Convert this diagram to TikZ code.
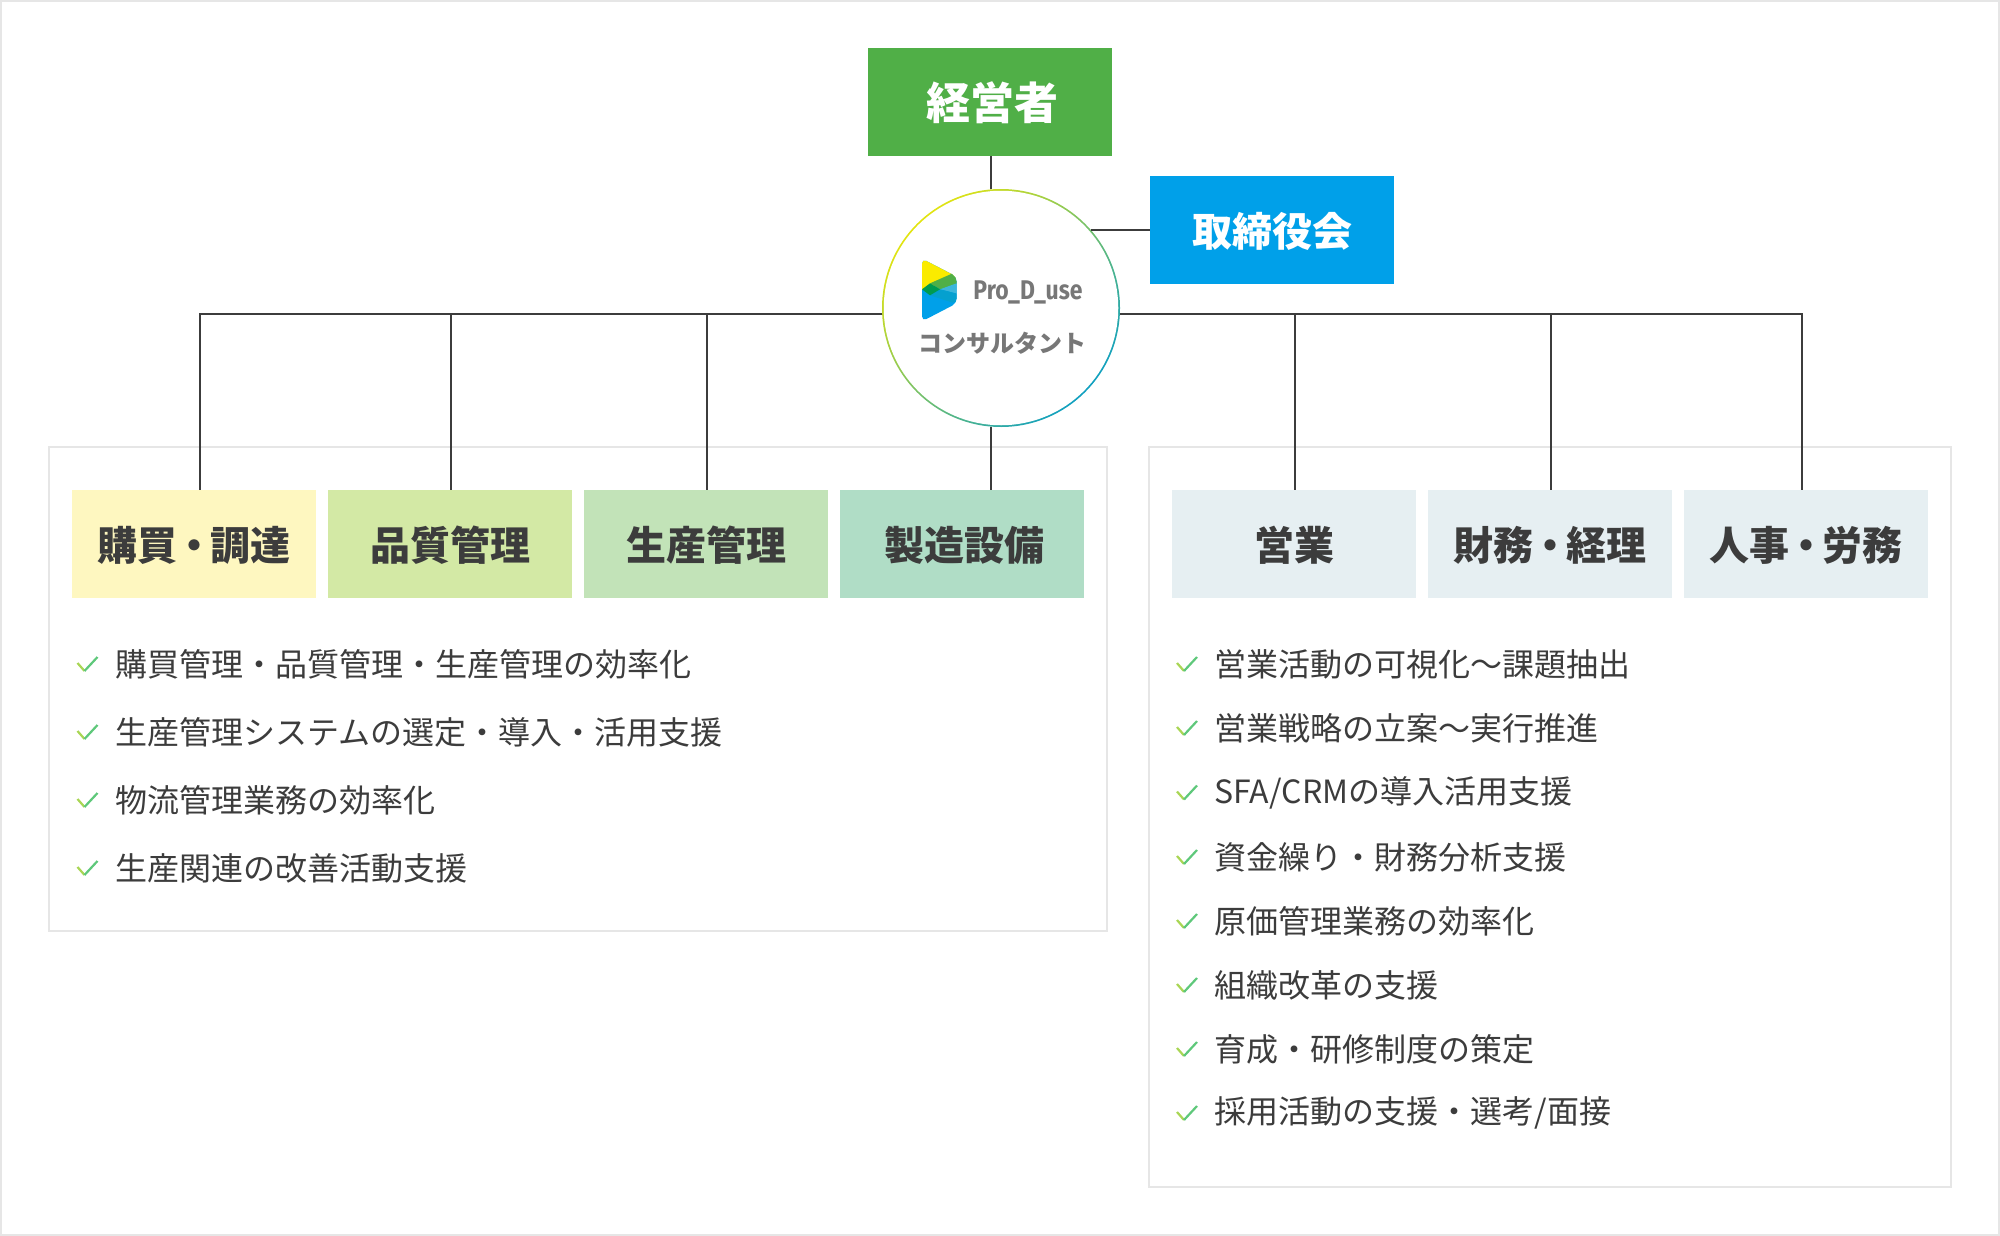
\documentclass[tikz,border=0pt]{standalone}
\usepackage{fontspec}
\setmainfont{Noto Sans CJK JP}
\newfontfamily\logofont[FakeStretch=0.85]{Fira Sans}
\usetikzlibrary{positioning}
\definecolor{inkcol}{HTML}{3C3C3C}
\definecolor{paneledge}{HTML}{E6E6E6}
\definecolor{mgmtcol}{HTML}{50AF47}
\definecolor{boardcol}{HTML}{00A0E9}
\definecolor{buycol}{HTML}{FEF7C0}
\definecolor{qualcol}{HTML}{D3E9A5}
\definecolor{prodcol}{HTML}{C2E3B8}
\definecolor{equipcol}{HTML}{B0DDC6}
\definecolor{bizcol}{HTML}{E6EFF2}
\definecolor{logogrey}{HTML}{777777}
\definecolor{logoyellow}{HTML}{FAEB00}
\definecolor{logodark}{HTML}{009B50}
\definecolor{logocyan}{HTML}{3CB6DC}
\definecolor{logomid}{HTML}{05A0CF}
\definecolor{ticklow}{HTML}{A9D654}
\definecolor{tickhigh}{HTML}{5EC87A}
\definecolor{ringtop}{HTML}{E2E410}
\definecolor{ringlow}{HTML}{10A0C0}
\newcommand{\thindot}{\kern-3.7pt ・\kern-3.7pt }
\tikzset{
  headbox/.style={minimum width=244pt, minimum height=108pt, inner sep=0pt, outer sep=0pt,
    text height=35pt, text depth=2pt, text=inkcol, font=\fontsize{40}{48}\selectfont\bfseries},
  topbox/.style={headbox, text=white},
  panel/.style={draw=paneledge, line width=2pt, fill=white},
  listitem/.style={inner sep=0pt, outer sep=0pt, minimum height=32pt, anchor=west,
    text=inkcol, font=\fontsize{32}{36}\selectfont},
  link/.style={draw=inkcol, line width=2pt},
  tick/.pic={
    \draw[ticklow, line width=2.2pt] (-37.5,-1) -- (-30.5,7);
    \draw[tickhigh, line width=2.2pt] (-30.5,7) -- (-17.5,-7);
  }
}
\begin{document}
\begin{tikzpicture}[x=1pt, y=-1pt]
    \useasboundingbox (0,0) rectangle (2000,1236);
    \draw[paneledge, line width=2pt] (1,1) rectangle (1999,1235);

    \draw[panel] (49,447) rectangle (1107,931);
    \draw[panel] (1149,447) rectangle (1951,1187);

    \node[topbox, fill=mgmtcol, text height=38pt, font=\fontsize{44}{52}\selectfont\bfseries] (mgmt) at (990,102) {\hspace*{5pt}経営者};
    \node[topbox, fill=boardcol] (board) at (1272,230) {取締役会};

    \node[circle, minimum size=238pt, inner sep=0pt, outer sep=0pt, top color=ringtop, bottom color=ringlow, shading angle=45] (cons) at (1001,308) {};
    \node[circle, minimum size=234.5pt, fill=white, inner sep=0pt] (consin) at (cons) {};

    \node[headbox, fill=buycol] (buy) at (194,544) {購買\thindot 調達};
    \node[headbox, fill=qualcol, right=12pt of buy] (qual) {品質管理};
    \node[headbox, fill=prodcol, right=12pt of qual] (prod) {生産管理};
    \node[headbox, fill=equipcol, right=12pt of prod] (equip) {\hspace*{5pt}製造設備};
    \node[headbox, fill=bizcol] (sales) at (1294,544) {営業};
    \node[headbox, fill=bizcol, right=12pt of sales] (fin) {財務\thindot 経理};
    \node[headbox, fill=bizcol, right=12pt of fin] (hr) {人事\thindot 労務};

    % logo
    \begin{scope}[shift={(910,250)}, x=0.3333pt, y=-0.3333pt]
      \clip[rounded corners=5pt] (36,26) -- (140,80) -- (140,160) -- (36,214) -- cycle;
      \fill[boardcol] (30,20) rectangle (145,220);
      \fill[logoyellow] (30,20) -- (145,80) -- (30,122) -- cycle;
      \fill[mgmtcol] (60,100) -- (128,70) -- (145,84) -- (145,100) -- (90,118) -- cycle;
      \fill[logocyan] (90,118) -- (145,98) -- (145,132) -- cycle;
      \fill[logomid] (60,136) -- (90,118) -- (145,132) -- (145,152) -- (128,158) -- cycle;
      \fill[logodark] (36,118) -- (60,100) -- (90,118) -- (60,136) -- cycle;
    \end{scope}
    \node[font=\logofont\fontsize{27}{32}\selectfont\bfseries, text=logogrey, inner sep=0pt] (logotext) at (1028,292) {Pro\_D\_use};
    \node[font=\fontsize{24}{28}\selectfont\bfseries, text=logogrey, inner sep=0pt] (constext) at (1002,343.5) {コンサルタント};

    \draw[link] (cons.95) -- (cons.95 |- mgmt.south);
    \draw[link] (cons.265) -- (cons.265 |- equip.north);
    \draw[link] (cons.41) -- (cons.41 -| board.west);
    \draw[link] (cons.183) -| ([xshift=6pt]buy.north);
    \draw[link] (cons.183) -| ([xshift=1pt]qual.north);
    \draw[link] (cons.183) -| ([xshift=1pt]prod.north);
    \draw[link] (cons.-3) -| ([xshift=1pt]sales.north);
    \draw[link] (cons.-3) -| ([xshift=1pt]fin.north);
    \draw[link] (cons.-3) -| ([xshift=-4pt]hr.north);

    \node[listitem] (a1) at (115,664) {購買管理・品質管理・生産管理の効率化};
    \node[listitem] (a2) at (115,732) {生産管理システムの選定・導入・活用支援};
    \node[listitem] (a3) at (115,800) {物流管理業務の効率化};
    \node[listitem] (a4) at (115,868) {生産関連の改善活動支援};
    \pic at (a1.west) {tick};
    \pic at (a2.west) {tick};
    \pic at (a3.west) {tick};
    \pic at (a4.west) {tick};

    \node[listitem] (b1) at (1214.5,664) {営業活動の可視化〜課題抽出};
    \node[listitem] (b2) at (1214.5,728) {営業戦略の立案〜実行推進};
    \node[listitem] (b3) at (1214.5,792.5) {SFA/CRMの導入活用支援};
    \node[listitem] (b4) at (1214.5,857) {資金繰り・財務分析支援};
    \node[listitem] (b5) at (1214.5,921) {原価管理業務の効率化};
    \node[listitem] (b6) at (1214.5,985) {組織改革の支援};
    \node[listitem] (b7) at (1214.5,1049) {育成・研修制度の策定};
    \node[listitem] (b8) at (1214.5,1113) {採用活動の支援・選考/面接};
    \pic at (b1.west) {tick};
    \pic at (b2.west) {tick};
    \pic at (b3.west) {tick};
    \pic at (b4.west) {tick};
    \pic at (b5.west) {tick};
    \pic at (b6.west) {tick};
    \pic at (b7.west) {tick};
    \pic at (b8.west) {tick};
\end{tikzpicture}
\end{document}
